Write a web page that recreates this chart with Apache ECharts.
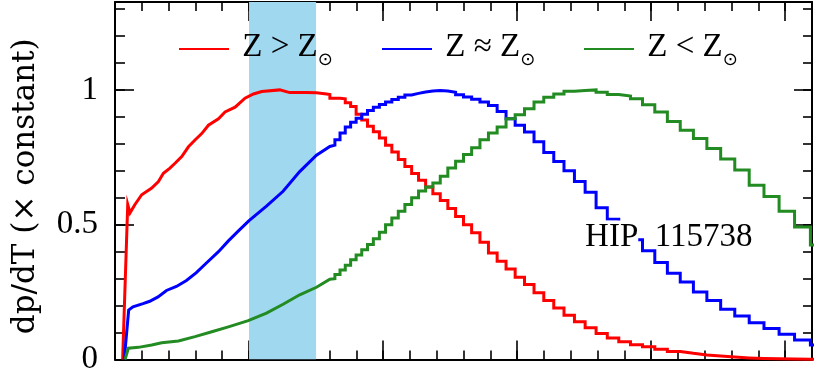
<!DOCTYPE html>
<html>
<head>
<meta charset="utf-8">
<script src="https://cdn.jsdelivr.net/npm/echarts@6/dist/echarts.min.js"></script>
<style>
  html, body { margin: 0; background: #fff; }
  #chart { width: 830px; height: 376px; }
</style>
</head>
<body>
<div id="chart"></div>
<script>
// ages in Gyr (x), dp/dT normalised (y)
var legendNames = ['Z > Z⊙', 'Z ≈ Z⊙', 'Z < Z⊙'];
var lineColors = ['#ff0000', '#0000ff', '#228b22'];
var yTickLabels = ['0', '0.5', '1'];
var bandRange = [1.0, 1.5];
var labelText = 'HIP 115738';
var labelAt = [3.507, 0.454];

// young part: bins are too narrow to see, read as a line
var redEarlyAge = [0.057, 0.095, 0.112, 0.149, 0.199, 0.274, 0.324, 0.361, 0.410, 0.448, 0.498, 0.548, 0.597, 0.647,
  0.697, 0.772, 0.821, 0.896, 0.970, 1.033, 1.095, 1.229, 1.304, 1.428, 1.503, 1.578, 1.603];
var redEarlyVal = [0, 0.575, 0.544, 0.575, 0.611, 0.636, 0.660, 0.691, 0.710, 0.728, 0.753, 0.789, 0.814, 0.838,
  0.869, 0.893, 0.918, 0.936, 0.969, 0.985, 0.994, 1.000, 0.990, 0.990, 0.989, 0.985, 0.983];

var blueEarlyAge = [0.069, 0.102, 0.134, 0.209, 0.259, 0.321, 0.384, 0.458, 0.533, 0.607, 0.682, 0.772, 0.846, 0.921,
  0.998, 1.130, 1.254, 1.378, 1.503, 1.603];
var blueEarlyVal = [0, 0.183, 0.195, 0.207, 0.216, 0.232, 0.256, 0.271, 0.293, 0.322, 0.358, 0.400, 0.440, 0.477,
  0.514, 0.569, 0.624, 0.697, 0.758, 0.790];

var greenEarlyAge = [0.075, 0.100, 0.175, 0.274, 0.349, 0.473, 0.597, 0.722, 0.846, 0.994, 1.130, 1.254, 1.378, 1.503, 1.603];
var greenEarlyVal = [0, 0.042, 0.045, 0.054, 0.062, 0.069, 0.085, 0.103, 0.121, 0.144, 0.172, 0.205, 0.240, 0.268, 0.298];

// histogram bin edges (Gyr) for the older part
var binEdges = [1.6032, 1.6406, 1.6788, 1.7179, 1.7579, 1.7989, 1.8408, 1.8836, 1.9275, 1.9724,
  2.0184, 2.0654, 2.1135, 2.1627, 2.2131, 2.2646, 2.3174, 2.3714, 2.4266, 2.4831,
  2.5410, 2.6002, 2.6607, 2.7227, 2.7861, 2.8510, 2.9174, 2.9854, 3.0549, 3.1261,
  3.1989, 3.2734, 3.3497, 3.4277, 3.5075, 3.5892, 3.6728, 3.7584, 3.8459, 3.9355,
  4.0272, 4.1210, 4.2170, 4.3152, 4.4157, 4.5186, 4.6238, 4.7315, 4.8417, 4.9545,
  5.0699, 5.1880, 5.3088];

var redBins = [0.969, 0.969, 0.967, 0.952, 0.938, 0.910, 0.888, 0.865, 0.845, 0.822,
  0.795, 0.770, 0.742, 0.716, 0.690, 0.665, 0.640, 0.615, 0.590, 0.560,
  0.530, 0.500, 0.470, 0.435, 0.395, 0.364, 0.336, 0.305, 0.278, 0.248,
  0.219, 0.191, 0.164, 0.140, 0.118, 0.096, 0.080, 0.066, 0.055, 0.047,
  0.038, 0.030, 0.023, 0.017, 0.013, 0.009, 0.006, 0.004, 0.003, 0.002,
  0.001, 0.001];

var blueBins = [0.795, 0.815, 0.840, 0.862, 0.880, 0.895, 0.910, 0.924, 0.936, 0.946,
  0.955, 0.964, 0.973, 0.981, 0.987, 0.992, 0.996, 0.998, 0.996, 0.991,
  0.982, 0.974, 0.965, 0.955, 0.942, 0.920, 0.893, 0.869, 0.844, 0.808,
  0.768, 0.734, 0.700, 0.660, 0.620, 0.563, 0.520, 0.480, 0.444, 0.403,
  0.360, 0.320, 0.287, 0.250, 0.219, 0.186, 0.161, 0.136, 0.115, 0.094,
  0.072, 0.054];

var greenBins = [0.300, 0.315, 0.332, 0.350, 0.370, 0.388, 0.407, 0.427, 0.448, 0.472,
  0.500, 0.525, 0.550, 0.575, 0.600, 0.625, 0.640, 0.655, 0.680, 0.710,
  0.735, 0.760, 0.785, 0.815, 0.840, 0.862, 0.893, 0.908, 0.930, 0.955,
  0.973, 0.985, 0.995, 0.998, 1.000, 0.991, 0.983, 0.977, 0.967, 0.945,
  0.918, 0.883, 0.850, 0.820, 0.783, 0.744, 0.703, 0.646, 0.605, 0.550,
  0.491, 0.425];

var xMax = 5.2, yMax = 1.326;

function histPoints(ages, vals, bins) {
  var pts = ages.map(function (a, i) { return [a, vals[i]]; });
  for (var i = 0; i < bins.length; i++) {
    pts.push([binEdges[i], bins[i]]);
    pts.push([binEdges[i + 1], bins[i]]);
  }
  return pts;
}

var black = '#000';
function xAx(pos, interval, len, line) {
  return {
    type: 'value', position: pos, min: 0, max: xMax, interval: interval,
    axisLine: { show: line, onZero: false, lineStyle: { color: black, width: 2 } },
    axisTick: { show: true, inside: true, length: len, lineStyle: { color: black, width: 1.6 } },
    axisLabel: { show: false }, splitLine: { show: false }
  };
}
function yAx(pos, interval, len, line) {
  return {
    type: 'value', position: pos, min: 0, max: yMax, interval: interval,
    axisLine: { show: line, onZero: false, lineStyle: { color: black, width: 2 } },
    axisTick: { show: true, inside: true, length: len, lineStyle: { color: black, width: 1.6 } },
    axisLabel: { show: false }, splitLine: { show: false }
  };
}

var yMain = yAx('left', 0.1, 10, true);
yMain.axisLabel = {
  show: true, margin: 17, color: black, fontFamily: 'Liberation Serif', fontSize: 33,
  formatter: function (v) {
    for (var i = 0; i < yTickLabels.length; i++) {
      if (Math.abs(v - parseFloat(yTickLabels[i])) < 1e-6) return yTickLabels[i];
    }
    return '';
  }
};
yMain.name = 'dp/dT (× constant)';
yMain.nameLocation = 'middle';
yMain.nameGap = 74;
yMain.nameTextStyle = { fontFamily: 'DejaVu Serif', fontSize: 31, color: black, padding: [0, 11, 0, 0] };

var curves = [
  histPoints(redEarlyAge, redEarlyVal, redBins),
  histPoints(blueEarlyAge, blueEarlyVal, blueBins),
  histPoints(greenEarlyAge, greenEarlyVal, greenBins)
];

// shaded age range: a filled line at the top of the frame, area down to 0
var series = [{
  type: 'line', name: 'band', z: 1, silent: true, symbol: 'none',
  data: [[bandRange[0], yMax], [bandRange[1], yMax]],
  lineStyle: { width: 0, opacity: 0 },
  areaStyle: { color: '#a0d8f0', opacity: 1 }
}];
curves.forEach(function (pts, i) {
  series.push({
    type: 'line', name: legendNames[i], data: pts, symbol: 'none', z: 3,
    lineStyle: { color: lineColors[i], width: 3, join: 'miter' },
    itemStyle: { color: lineColors[i] }
  });
});

var legendLeft = [179, 382, 584];
var legends = legendNames.map(function (n, i) {
  return {
    data: [n], left: legendLeft[i], top: 25, padding: 0, itemWidth: 50, itemHeight: 2,
    icon: 'rect', selectedMode: false,
    formatter: function (name) { return ' ' + name.replace('⊙', '{sub|⊙}'); },
    textStyle: {
      fontFamily: 'Liberation Serif', fontSize: 33, color: black, lineHeight: 44, padding: [0, 0, 4, 0],
      rich: { sub: { fontFamily: 'DejaVu Sans', fontSize: 18, color: black, verticalAlign: 'bottom', lineHeight: 18 } }
    }
  };
});

var chart = echarts.init(document.getElementById('chart'));
chart.setOption({
  animation: false,
  grid: { left: 115, right: 18, top: 2, bottom: 12 },
  legend: legends,
  xAxis: [xAx('bottom', 0.2, 9, true), xAx('bottom', 1, 19, false), xAx('top', 0.2, 9, true), xAx('top', 1, 19, false)],
  yAxis: [yMain, yAx('left', 0.5, 19, false), yAx('right', 0.1, 9, true), yAx('right', 0.5, 18, false)],
  series: series
});

var p = chart.convertToPixel({ xAxisIndex: 0, yAxisIndex: 0 }, labelAt);
var parts = labelText.split(' ');
chart.setOption({
  graphic: [{
    type: 'text', x: p[0], y: p[1], z: 100,
    style: {
      text: '{a|' + parts[0] + '}  ' + parts[1],
      fontFamily: 'Liberation Serif', fontSize: 33, fill: black, lineHeight: 28, verticalAlign: 'middle',
      rich: { a: { fontFamily: 'Liberation Serif', fontSize: 33, lineHeight: 28, backgroundColor: '#fff' } }
    }
  }]
});
</script>
</body>
</html>
